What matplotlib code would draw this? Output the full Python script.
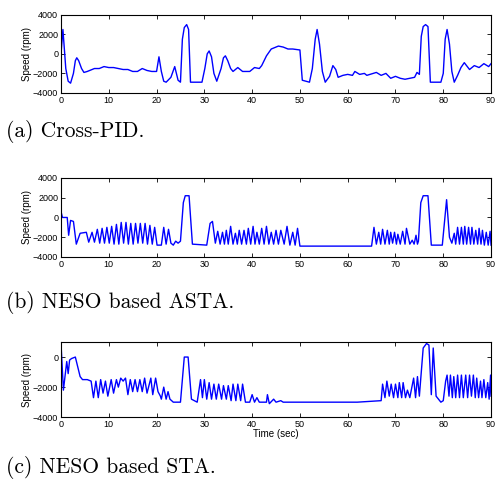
import matplotlib
matplotlib.use("Agg")
import matplotlib.pyplot as plt

# ---- data (time in sec, speed in rpm) ----
t_pid = [0, 0.4, 1.0, 1.5, 2.0, 2.6, 3.0, 3.3, 3.7, 4.3, 4.8, 5.5, 7, 8, 9, 10, 11, 12, 13,
         14, 15, 16, 17, 18, 19, 20, 20.5, 21.0, 21.5, 22, 23, 23.8, 24.5, 25, 25.4, 25.8,
         26.3, 26.7, 27.1, 29.5, 30.1, 30.6, 31.0, 31.5, 32.0, 32.6, 33.5, 34.0, 34.4, 34.9,
         35.5, 36, 37, 38, 39.5, 40.5, 41.5, 42, 43, 44, 45.5, 46.5, 47.5, 48.5, 50, 50.5, 52,
         52.6, 53.2, 53.6, 54.1, 54.7, 55.3, 56.2, 56.9, 57.5, 58, 59, 60, 61, 61.5, 62.5,
         63.5, 64, 66, 67, 68, 69, 70, 71, 72, 73, 74, 74.5, 75, 75.4, 75.8, 76.3, 76.8, 77.3,
         79.5, 80.0, 80.4, 80.8, 81.3, 81.8, 82.3, 83.0, 83.7, 84.4, 85.5, 86.5, 87.5, 88.5,
         89.5, 90]
v_pid = [0, 2500, -1500, -2800, -3000, -2000, -700, -400, -700, -1500, -1900, -1800, -1500,
         -1500, -1300, -1400, -1400, -1500, -1600, -1600, -1800, -1800, -1500, -1700, -1800,
         -1800, -300, -1800, -2800, -2900, -2400, -1300, -2700, -2900, 1500, 2700, 3000,
         2500, -2900, -2900, -1500, 0, 300, -300, -2000, -2800, -1500, -400, -200, -700,
         -1500, -1800, -1400, -1800, -1800, -1400, -1500, -1200, -200, 500, 800, 700, 500, 500,
         400, -2700, -2900, -1500, 1500, 2500, 1000, -1800, -2900, -2300, -1200, -1600, -2400,
         -2200, -2100, -2200, -1800, -2100, -2000, -2200, -1900, -2200, -2000, -2500, -2300,
         -2500, -2600, -2500, -2400, -1900, -2100, 1800, 2800, 3000, 2800, -2900, -2900,
         -2000, 1500, 2500, 1000, -1800, -2900, -2200, -1400, -900, -1600, -1200, -1400, -1000,
         -1300, -1000]

t_asta = [0, 0.3, 1.3, 1.6, 2.0, 2.6, 3.2, 4.0, 5.3, 5.8, 6.5, 7.0, 7.6, 8.1, 8.6, 9.1, 9.6,
          10.1, 10.6, 11.1, 11.6, 12.1, 12.6, 13.1, 13.6, 14.1, 14.6, 15.1, 15.6, 16.1, 16.6,
          17.1, 17.6, 18.1, 18.6, 19.1, 19.6, 20.1, 21.0, 21.5, 22.0, 22.5, 23.0, 23.5, 24.0,
          24.5, 25.0, 25.6, 26.0, 26.8, 27.5, 30.5, 31.2, 31.7, 32.3, 32.8, 33.3, 33.8, 34.2,
          34.6, 35.0, 35.5, 36.0, 36.5, 36.9, 37.3, 37.8, 38.3, 38.8, 39.2, 39.7, 40.2, 40.6,
          41.0, 41.5, 42.0, 42.5, 43.0, 43.5, 44.0, 44.5, 45.0, 45.5, 46.0, 46.7, 47.3, 47.9,
          48.5, 49.0, 49.5, 50.0, 65.0, 65.5, 66.0, 66.5, 66.9, 67.3, 67.8, 68.3, 68.7, 69.0,
          69.4, 69.8, 70.2, 70.5, 71.0, 71.5, 72.0, 72.3, 73.0, 73.5, 73.9, 74.3, 74.6, 74.8,
          75.3, 75.8, 76.8, 77.5, 79.8, 80.7, 81.3, 81.8, 82.3, 82.6, 83.0, 83.4, 83.8, 84.2,
          84.5, 84.9, 85.3, 85.7, 86.0, 86.4, 86.8, 87.2, 87.5, 87.9, 88.2, 88.6, 89.0, 89.4,
          89.8, 90]
v_asta = [600, 0, 0, -1800, -300, -400, -2700, -1600, -1500, -2500, -1500, -2500, -1200,
          -2600, -1100, -2600, -1000, -2600, -900, -2700, -700, -2700, -500, -2600, -500,
          -2700, -600, -2700, -600, -2600, -600, -2600, -600, -2700, -800, -2700, -1000, -2800,
          -2800, -1000, -2700, -1200, -2600, -2800, -2400, -2600, -2400, 1500, 2200, 2200,
          -2700, -2800, -600, -400, -2600, -1400, -2700, -1500, -2700, -1300, -2700, -900,
          -2700, -1600, -2700, -1300, -2700, -1300, -2700, -1100, -2700, -900, -2700, -1500,
          -2700, -1100, -2700, -900, -2700, -1500, -2700, -1300, -2700, -1300, -2700, -900,
          -2800, -1500, -2800, -1100, -2900, -2900, -1000, -2700, -1500, -2700, -1200, -2700,
          -1300, -2700, -1500, -2600, -1500, -2700, -1700, -2700, -1400, -2700, -1100, -2700,
          -2300, -2700, -1800, -2700, -2400, 1500, 2200, 2200, -2800, -2800, 1800, -2000, -2600,
          -1600, -2700, -1000, -2700, -1000, -2700, -900, -2700, -1000, -2700, -1000, -2700,
          -1300, -2700, -1100, -2700, -1300, -2800, -1500, -2800, -1400, -2800]

t_sta = [0, 0.5, 1.2, 1.5, 1.8, 2.2, 3.0, 4.0, 4.5, 5.5, 6.3, 6.8, 7.3, 7.8, 8.3, 8.8, 9.3,
         9.8, 10.5, 11.0, 11.6, 12.0, 12.5, 13.0, 13.5, 14.0, 14.5, 15.0, 15.5, 16.0, 16.5,
         17.0, 17.5, 18.0, 18.8, 19.2, 19.8, 20.3, 20.8, 21.0, 21.5, 22.0, 22.4, 22.8, 23.5,
         25.0, 25.8, 26.6, 27.3, 28.5, 29.2, 29.6, 30.0, 30.5, 31.0, 31.5, 32.0, 32.5, 33.0,
         33.6, 34.0, 34.6, 35.0, 35.6, 36.0, 36.6, 37.0, 37.6, 38.0, 38.6, 39.5, 40.0, 40.5,
         41.0, 41.5, 43.0, 43.2, 43.6, 44.5, 45.0, 46.0, 46.5, 55.0, 62.0, 67.0, 67.3, 67.8,
         68.2, 68.7, 69.1, 69.6, 70.0, 70.5, 70.8, 71.3, 71.6, 72.1, 72.5, 73.0, 73.8, 74.2,
         74.6, 75.0, 75.8, 76.5, 77.0, 77.5, 77.9, 78.5, 79.5, 80.0, 80.5, 80.8, 81.2, 81.5,
         81.9, 82.2, 82.6, 83.0, 83.4, 83.8, 84.2, 84.7, 85.1, 85.5, 85.9, 86.3, 86.7, 87.0,
         87.4, 87.8, 88.1, 88.5, 88.9, 89.3, 89.6, 89.9, 90]
v_sta = [900, -2200, -300, -1100, -200, -100, 0, -1300, -1500, -1500, -1600, -2700, -1600,
         -2700, -1500, -2400, -1600, -2600, -1500, -2400, -1500, -2000, -1400, -1600, -1400,
         -2500, -1500, -2300, -1500, -2300, -1500, -2300, -1400, -2400, -1400, -2500, -1400,
         -2300, -2600, -2800, -2000, -2800, -2300, -2800, -3000, -3000, 0, 0, -2800, -3000,
         -1500, -2700, -1500, -2800, -1700, -2800, -1800, -2800, -1800, -2800, -1900, -2800,
         -1900, -2900, -1800, -2900, -1800, -2900, -1800, -3000, -3000, -2500, -3000, -2700,
         -3000, -3000, -2500, -3100, -2800, -3000, -2900, -3000, -3000, -3000, -2900, -1800,
         -2700, -1600, -2600, -1800, -2700, -1800, -2700, -1700, -2700, -1700, -2700, -2200,
         -2700, -1400, -2700, -1300, -2600, 600, 900, 800, -2500, 600, -2600, -3000, -2900,
         -1600, -1200, -2600, -1200, -2700, -1300, -2700, -1200, -2700, -1200, -2700, -1200,
         -2700, -1200, -2600, -1200, -2700, -1400, -2700, -1600, -2700, -1500, -2700, -1700,
         -2800, -1200, -2600]

series = [(t_pid, v_pid), (t_asta, v_asta), (t_sta, v_sta)]
captions = ["(a) Cross-PID.", "(b) NESO based ASTA.", "(c) NESO based STA."]
ylims = [(-4000, 4000), (-4000, 4000), (-4000, 1000)]
yticks = [[-4000, -2000, 0, 2000, 4000], [-4000, -2000, 0, 2000, 4000], [-4000, -2000, 0]]
xticks = list(range(0, 91, 10))

fig = plt.figure(figsize=(4.96, 4.79), dpi=100)

# axes boxes in figure fractions
boxes = [(0.123, 0.806, 0.867, 0.163),
         (0.123, 0.4635, 0.867, 0.165),
         (0.123, 0.129, 0.867, 0.157)]
cap_y = [0.714, 0.357, 0.0125]

for i, (t, v) in enumerate(series):
    ax = fig.add_axes(boxes[i])
    ax.plot(t, v, color="#0000ff", linewidth=1.0)
    ax.set_xlim(0, 90)
    ax.set_ylim(*ylims[i])
    ax.set_xticks(xticks)
    ax.set_yticks(yticks[i])
    ax.tick_params(direction="in", top=True, right=True, labelsize=6.5,
                   length=3, width=0.6, pad=2)
    for lbl in ax.get_xticklabels() + ax.get_yticklabels():
        lbl.set_family("Liberation Sans")
    for s in ax.spines.values():
        s.set_linewidth(0.8)
    ax.set_ylabel("Speed (rpm)", fontsize=7, family="Liberation Sans", labelpad=1)
    if i == 2:
        ax.set_xlabel("Time (sec)", fontsize=7, family="Liberation Sans", labelpad=0)
    fig.text(0.012, cap_y[i], captions[i], fontsize=15.5, family="cmr10", va="baseline")

fig.savefig("out.png", dpi=100)
